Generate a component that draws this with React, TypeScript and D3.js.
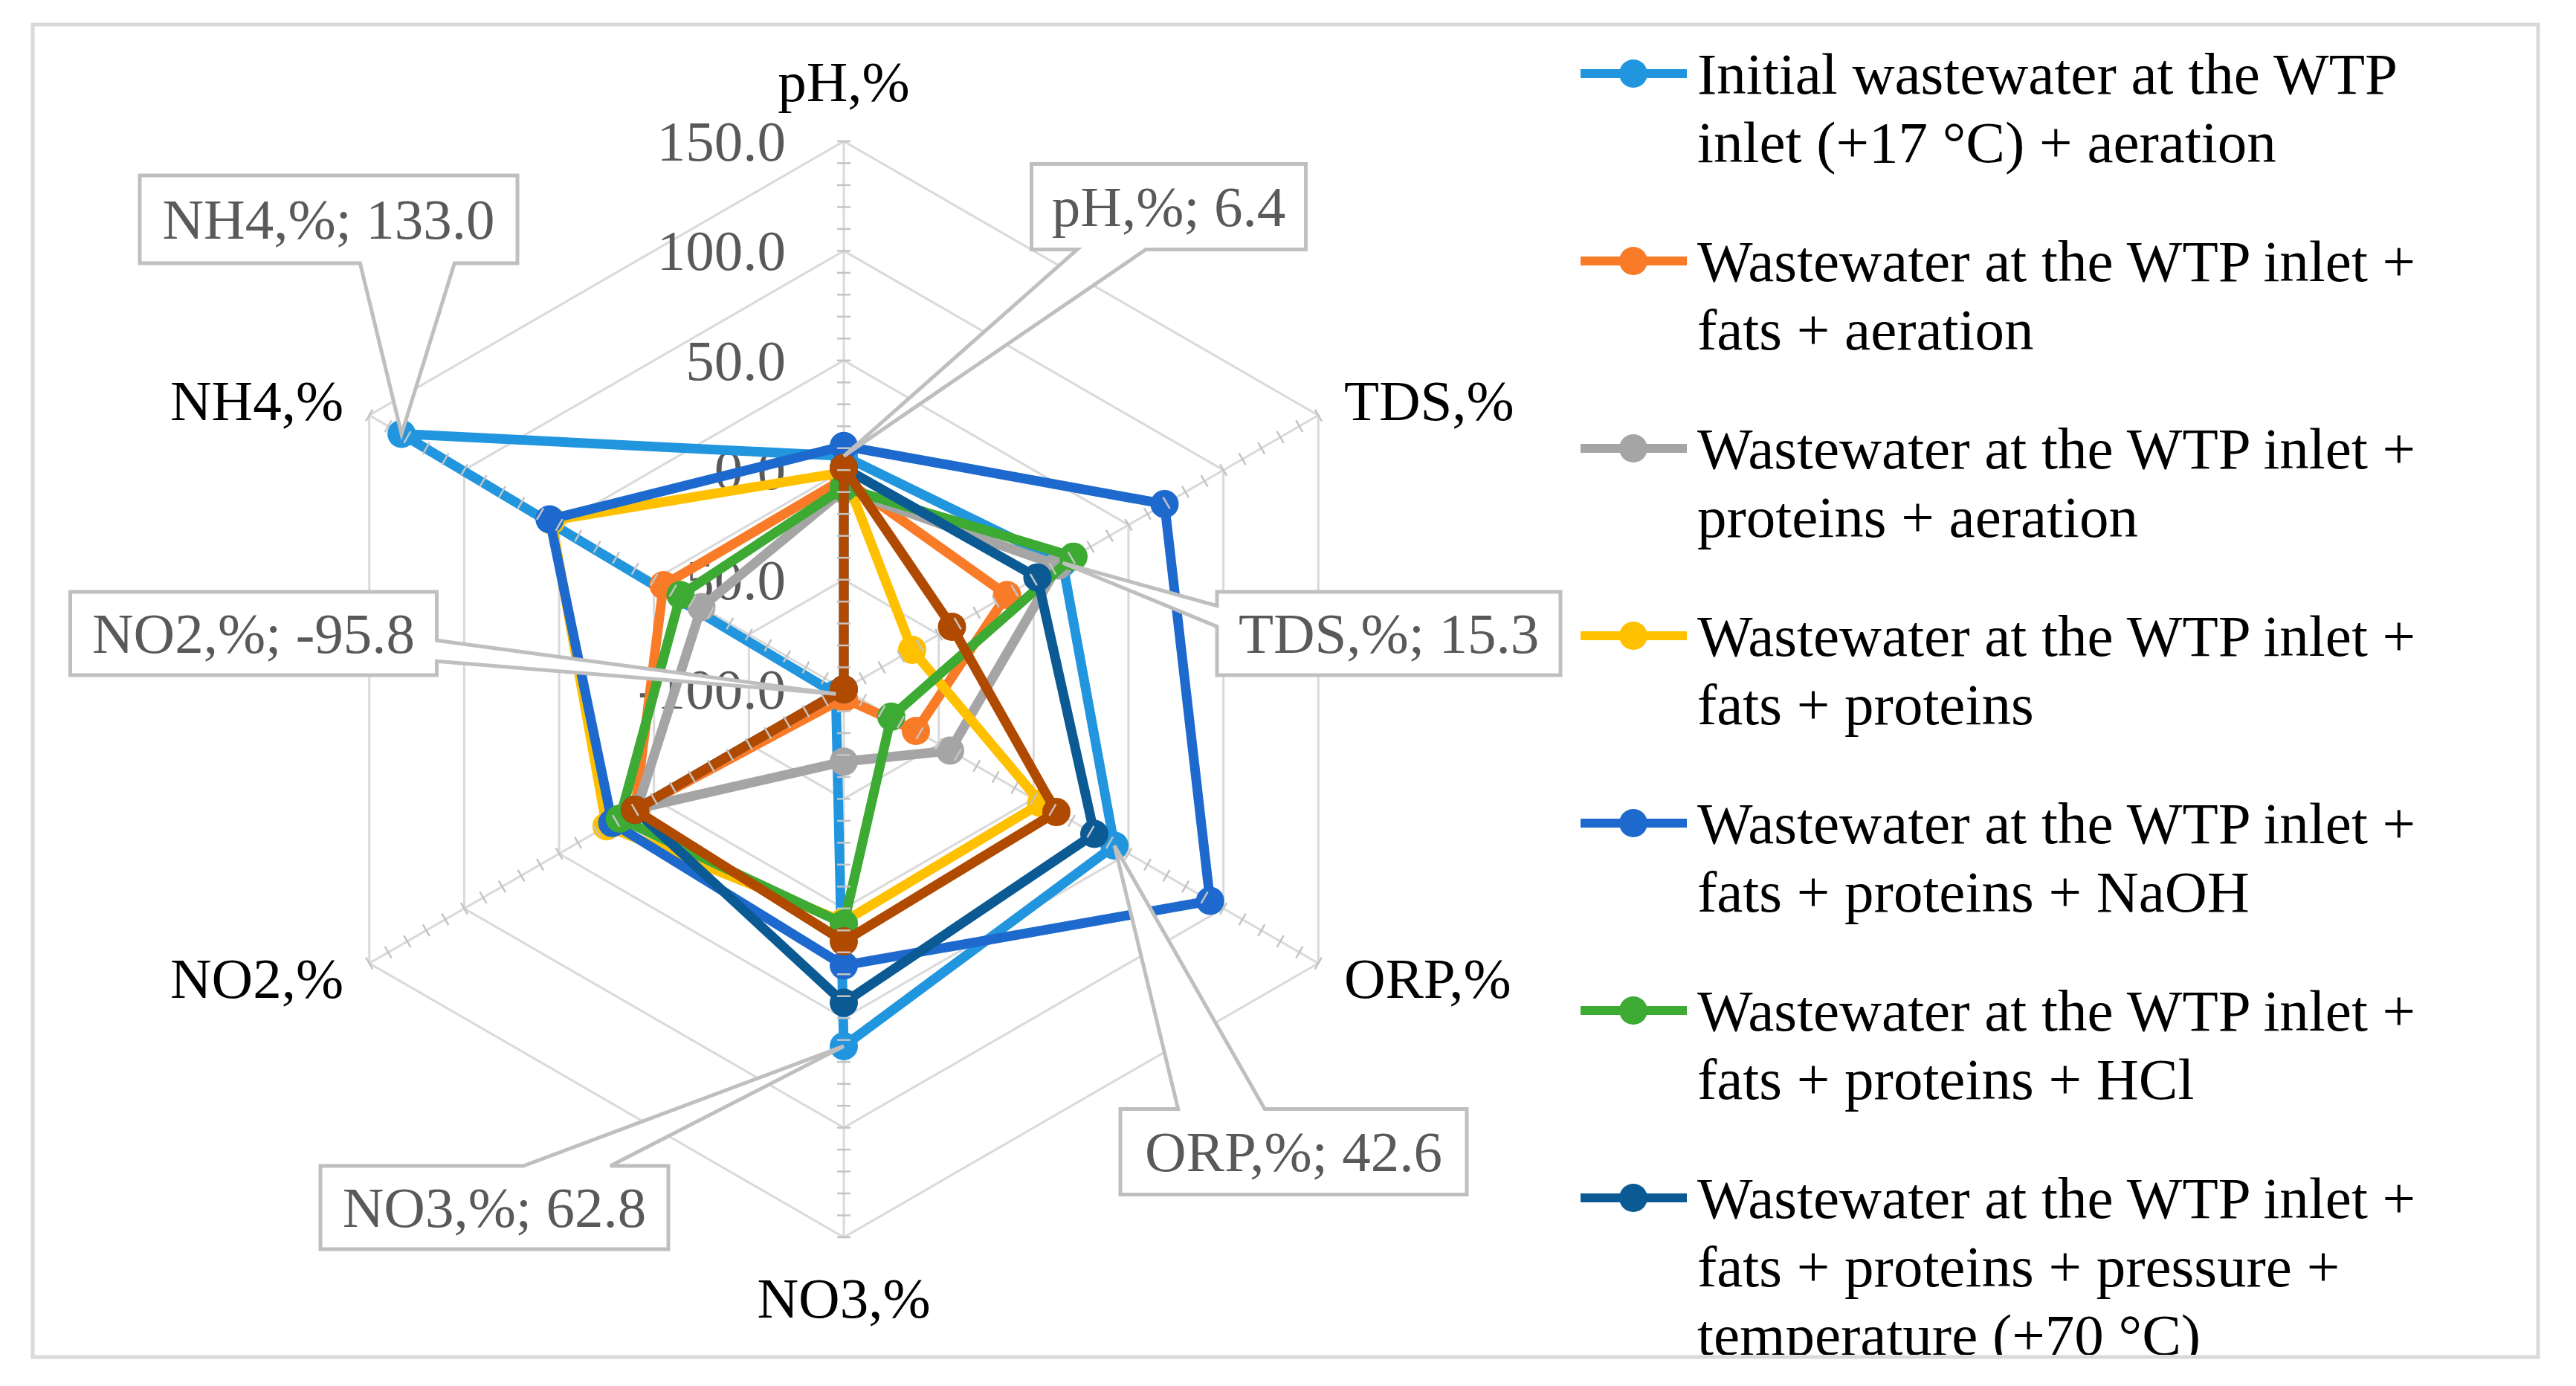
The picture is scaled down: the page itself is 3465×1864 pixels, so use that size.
import * as d3 from 'd3'

// axes, clockwise from the top
const categories = ['pH,%', 'TDS,%', 'ORP,%', 'NO3,%', 'NO2,%', 'NH4,%']
const radialTicks = [-100, -50, 0, 50, 100, 150]

// series values, same order as categories
const initialAeration = [6.4, 15.3, 42.6, 62.8, -95.8, 133.0]
const fatsAeration = [-4, -14, -62, -96, 10, -5]
const proteinsAeration = [-9, 13, -44, -67, 9, -25]
const fatsProteins = [-1, -64, 4, 6, 25, 54]
const fatsProteinsNaOH = [11, 69, 93, 26, 22, 55]
const fatsProteinsHCl = [-8, 21, -75, 7, 18, -14]
const pressureTemp = [1, 2, 32, 43, 10, -100]
const eighthSeries = [1, -43, 12, 15, 10, -100]

const seriesValues = [
  initialAeration, fatsAeration, proteinsAeration, fatsProteins,
  fatsProteinsNaOH, fatsProteinsHCl, pressureTemp, eighthSeries
]
const seriesColors = ['#2196de', '#f97b27', '#a5a5a5', '#ffc000', '#1e69cd', '#3daa34', '#0b5a94', '#b04a00']

// legend text, wrapped as in the original (8th entry is cut off by the frame)
const legendLines = [
  ['Initial wastewater at the WTP', 'inlet (+17 °C) + aeration'],
  ['Wastewater at the WTP inlet +', 'fats + aeration'],
  ['Wastewater at the WTP inlet +', 'proteins + aeration'],
  ['Wastewater at the WTP inlet +', 'fats + proteins'],
  ['Wastewater at the WTP inlet +', 'fats + proteins + NaOH'],
  ['Wastewater at the WTP inlet +', 'fats + proteins + HCl'],
  ['Wastewater at the WTP inlet +', 'fats + proteins + pressure +', 'temperature (+70 °C)']
]

// callout boxes for the first series (center x, center y, width, height)
const calloutBoxes = [
  [1572, 278, 369, 115],
  [1868, 852, 462, 112],
  [1740, 1549, 466, 115],
  [665, 1624, 468, 112],
  [341, 852, 493, 112],
  [442, 295, 508, 118]
]

const W = 3465
const H = 1864
const cx = 1135
const cy = 927
const R = 737
const FONT = "'Liberation Serif', 'Times New Roman', serif"
const FS = 77

function calloutPath(bx: number, by: number, w: number, h: number, tx: number, ty: number) {
  const l = bx - w / 2, r = bx + w / 2, t = by - h / 2, b = by + h / 2
  const dx = (tx - bx) / w
  const dy = (ty - by) / h
  if (Math.abs(dx) > Math.abs(dy)) {
    const f = ty < by ? [2 / 12, 5 / 12] : [7 / 12, 10 / 12]
    const y1 = t + f[0] * h, y2 = t + f[1] * h
    if (dx < 0) return `M${l},${t}H${r}V${b}H${l}V${y2}L${tx},${ty}L${l},${y1}Z`
    return `M${l},${t}H${r}V${y1}L${tx},${ty}L${r},${y2}V${b}H${l}Z`
  }
  const f = tx < bx ? [2 / 12, 5 / 12] : [7 / 12, 10 / 12]
  const x1 = l + f[0] * w, x2 = l + f[1] * w
  if (dy < 0) return `M${l},${t}H${x1}L${tx},${ty}L${x2},${t}H${r}V${b}H${l}Z`
  return `M${l},${t}H${r}V${b}H${x2}L${tx},${ty}L${x1},${b}H${l}Z`
}

export default function App() {
  const rScale = d3.scaleLinear().domain([-100, 150]).range([0, R])
  const aScale = d3.scaleLinear().domain([0, categories.length]).range([0, 2 * Math.PI])
  const pos = (i: number, v: number): [number, number] => {
    const a = aScale(i)
    const r = rScale(v)
    return [cx + r * Math.sin(a), cy - r * Math.cos(a)]
  }
  const radial = d3.lineRadial<number>()
    .angle((_, i) => aScale(i))
    .radius(d => rScale(d))
    .curve(d3.curveLinearClosed)

  const minorTicks = d3.range(-90, 151, 10)

  return (
    <svg width={W} height={H} style={{ position: 'absolute', left: 0, top: 0, display: 'block', background: '#fff' }}
      fontFamily={FONT}>
      <defs>
        <clipPath id="frame">
          <rect x={47} y={36} width={3364} height={1786} />
        </clipPath>
      </defs>
      <rect x={0} y={0} width={W} height={H} fill="#fff" />

      {/* grid */}
      <g transform={`translate(${cx},${cy})`} fill="none" stroke="#d9d9d9" strokeWidth={3}>
        {radialTicks.filter(t => t > -100).map(t => (
          <path key={t} d={radial(categories.map(() => t)) || ''} />
        ))}
        {categories.map((c, i) => {
          const [x, y] = pos(i, 150)
          return <line key={c} x1={0} y1={0} x2={x - cx} y2={y - cy} />
        })}
      </g>

      {/* value labels */}
      <g fill="#595959" fontSize={FS} textAnchor="end">
        {radialTicks.map(t => (
          <text key={t} x={cx - 78} y={pos(0, t)[1] + 26}>{t.toFixed(1)}</text>
        ))}
      </g>

      {/* series */}
      {seriesValues.map((vals, s) => (
        <g key={s}>
          <path d={radial(vals) || ''} transform={`translate(${cx},${cy})`} fill="none"
            stroke={seriesColors[s]} strokeWidth={13} strokeLinejoin="round" />
          {vals.map((v, i) => {
            const [x, y] = pos(i, v)
            return <circle key={i} cx={x} cy={y} r={19} fill={seriesColors[s]} />
          })}
        </g>
      ))}

      {/* tick marks on each spoke */}
      <g stroke="#c4c4c4" strokeWidth={2.5}>
        {categories.map((c, i) => {
          const a = aScale(i)
          const px = Math.cos(a) * 9
          const py = Math.sin(a) * 9
          return minorTicks.map(t => {
            const [x, y] = pos(i, t)
            return <line key={c + t} x1={x - px} y1={y - py} x2={x + px} y2={y + py} />
          })
        })}
      </g>

      {/* callouts for the first series */}
      {categories.map((c, i) => {
        const [bx, by, w, h] = calloutBoxes[i]
        const [tx, ty] = pos(i, initialAeration[i])
        return (
          <g key={c}>
            <path d={calloutPath(bx, by, w, h, tx, ty)} fill="#fff" stroke="#bfbfbf" strokeWidth={5} strokeLinejoin="miter" />
            <text x={bx} y={by + 26} textAnchor="middle" fontSize={FS} fill="#595959">
              {`${c}; ${initialAeration[i].toFixed(1)}`}
            </text>
          </g>
        )
      })}

      {/* category labels */}
      <g fontSize={FS} fill="#000">
        {categories.map((c, i) => {
          const a = aScale(i)
          const s = Math.sin(a)
          const co = Math.cos(a)
          const rr = R + 40
          const x = cx + rr * s
          let y = cy - rr * co
          let anchor = 'middle'
          if (Math.abs(s) < 0.01) y += co > 0 ? -40 : 42
          else anchor = s > 0 ? 'start' : 'end'
          return <text key={c} x={x} y={y + 26} textAnchor={anchor}>{c}</text>
        })}
      </g>

      {/* legend */}
      <g clipPath="url(#frame)" fontSize={79} fill="#000">
        {legendLines.map((lines, k) => {
          const y0 = 99 + k * 252
          return (
            <g key={k}>
              <line x1={2126} x2={2269} y1={y0} y2={y0} stroke={seriesColors[k]} strokeWidth={12} />
              <circle cx={2197} cy={y0} r={19} fill={seriesColors[k]} />
              {lines.map((ln, j) => (
                <text key={j} x={2283} y={y0 + j * 92 + 27}>{ln}</text>
              ))}
            </g>
          )
        })}
      </g>

      {/* frame */}
      <rect x={44} y={33} width={3370} height={1792} fill="none" stroke="#d9d9d9" strokeWidth={5} />
    </svg>
  )
}
